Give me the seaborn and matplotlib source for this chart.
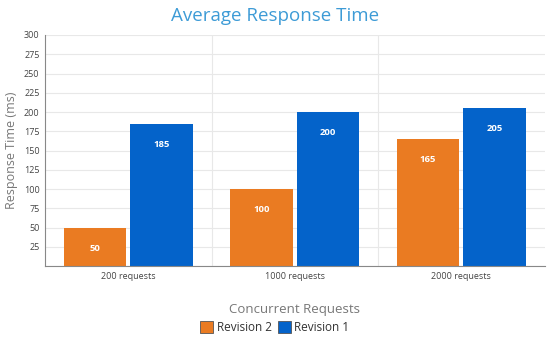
import pandas as pd
import matplotlib.pyplot as plt
import seaborn as sns
from matplotlib.patches import Patch

categorias = ['200 requests', '1000 requests', '2000 requests']
revision_2 = [50, 100, 165]
revision_1 = [185, 200, 205]
series = ['Revision 2', 'Revision 1']
colores = ['#EA7B22', '#0463CA']

df = pd.DataFrame({
    'Requests': categorias * 2,
    'Tiempo': revision_2 + revision_1,
    'Serie': [series[0]] * 3 + [series[1]] * 3,
})

sns.set_style('white')
plt.rcParams['font.family'] = ['Open Sans', 'DejaVu Sans']

fig = plt.figure(figsize=(5.5, 3.43), dpi=100)
ax = fig.add_axes([0.082, 0.224, 0.908, 0.674])

sns.barplot(data=df, x='Requests', y='Tiempo', hue='Serie', order=categorias,
            hue_order=series, palette=colores, width=0.8, gap=0.06,
            legend=False, ax=ax, saturation=1, linewidth=0)

for cont in ax.containers:
    ax.bar_label(cont, labels=[f'{int(v)}' for v in cont.datavalues],
                 label_type='edge', padding=-18, color='white',
                 fontsize=6.8, fontweight='bold')

ax.set_xlim(-0.5, 2.5)
ax.set_ylim(0, 300)
ax.set_yticks(range(0, 301, 25))
ax.set_yticklabels([''] + [str(v) for v in range(25, 301, 25)])
ax.yaxis.grid(True, color='#E8E8E8', linewidth=0.8)
for xv in [0.5, 1.5]:
    ax.axvline(xv, color='#E8E8E8', linewidth=0.8, zorder=0)
ax.set_axisbelow(True)

for lado in ['top', 'right']:
    ax.spines[lado].set_visible(False)
ax.spines['left'].set_color('#888888')
ax.spines['bottom'].set_color('#888888')
ax.tick_params(axis='both', length=0, labelsize=6.5, labelcolor='#444444', pad=4)

ax.set_ylabel('Response Time (ms)', fontsize=9, color='#777777')
ax.set_xlabel('Concurrent Requests', fontsize=9.5, color='#777777', labelpad=16)
fig.suptitle('Average Response Time', fontsize=13.5, color='#3D9BD6', y=0.98)

handles = [Patch(facecolor=c, edgecolor='#555555', linewidth=0.6) for c in colores]
fig.legend(handles, series, loc='center', bbox_to_anchor=(0.5, 0.045), ncol=2,
           frameon=False, fontsize=8.5, handlelength=1.1, handleheight=1.1,
           handletextpad=0.3, columnspacing=0.5, labelcolor='#333333')

plt.savefig('out.png', dpi=100)
